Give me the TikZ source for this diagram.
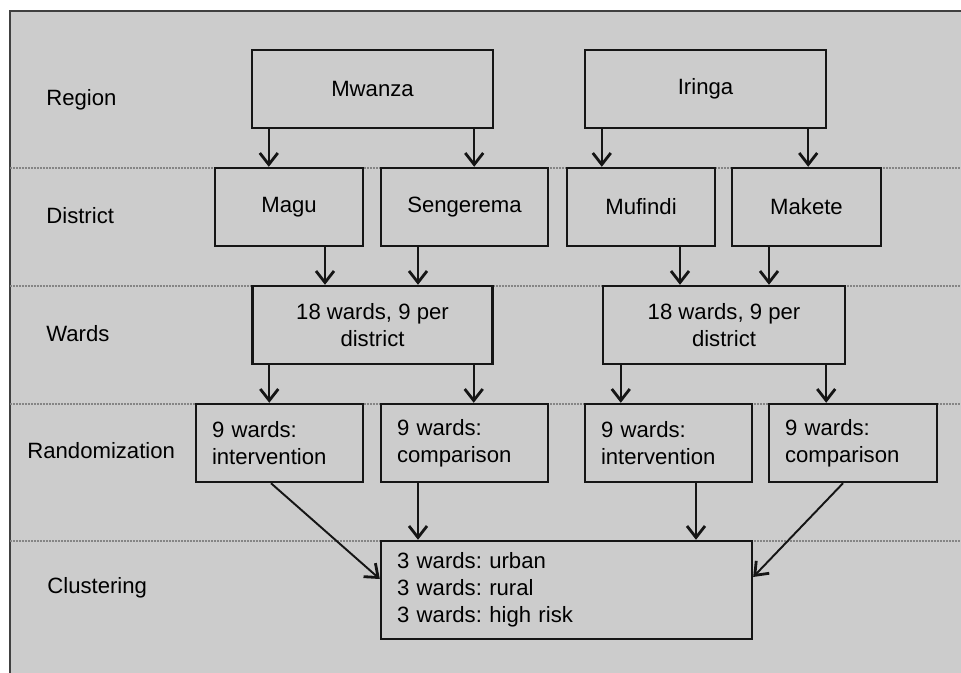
\documentclass[tikz,border=0pt]{standalone}
\usepackage{fontspec}
\setmainfont{Liberation Sans}
\usetikzlibrary{arrows.meta}
\definecolor{bggray}{HTML}{CCCCCC}
\definecolor{linegray}{HTML}{858585}
\definecolor{boxline}{HTML}{151515}
\frenchspacing

\begin{document}
\begin{tikzpicture}[x=0.02cm, y=-0.02cm,
  every node/.style={font=\fontsize{12.6}{15.3}\selectfont, text=black},
  box/.style={rectangle, draw=boxline, fill=bggray, line width=1.4pt, minimum height=1.56cm, inner sep=0pt},
  listbox/.style={box, align=left, inner xsep=0.32cm},
  rowlabel/.style={anchor=base west, inner sep=0pt},
  arr/.style={draw=boxline, line width=1.1pt, -{Straight Barb[length=2.3mm,width=3.6mm,line width=1.6pt]}},
  sep/.style={linegray, line width=1pt, dash pattern=on 0.04cm off 0.02cm}]

	\useasboundingbox (0,0) rectangle (961,673);
	\fill[bggray] (10,11) rectangle (961,673);
	\draw[black!75, line width=0.6pt] (10,673) -- (10,11) -- (961,11);

	% row separators
	\draw[sep] (10,168) -- (961,168);
	\draw[sep] (10,286) -- (961,286);
	\draw[sep] (10,404) -- (961,404);
	\draw[sep] (10,541) -- (961,541);

	% row labels
	\node[rowlabel] (lregion) at (46,105) {Region};
	\node[rowlabel] (ldistrict) at (46,223) {District};
	\node[rowlabel] (lwards) at (46,341) {Wards};
	\node[rowlabel] (lrandom) at (27,458) {Randomization};
	\node[rowlabel] (lcluster) at (47,593) {Clustering};

	\node[box, minimum width=4.82cm] (mwanza) at (372.5,89) {Mwanza};
	\node[box, minimum width=4.82cm] (iringa) at (705.5,89) {Iringa};

	\node[box, minimum width=2.96cm] (magu) at (289,207) {Magu};
	\node[box, minimum width=3.34cm] (sengerema) at (464.5,207) {Sengerema};
	\node[box, minimum width=2.96cm] (mufindi) at (641,207) {Mufindi};
	\node[box, minimum width=2.98cm] (makete) at (806.5,207) {Makete};

	\node[box, minimum width=4.80cm, align=center] (wardsA) at (372.5,325) {18 wards, 9 per\\district};
	\node[box, minimum width=4.84cm, align=center] (wardsB) at (724,325) {18 wards, 9 per\\district};

	\node[listbox, text width=2.70cm] (intA) at (279.5,443) {9 wards:\\intervention};
	\node[listbox, text width=2.70cm] (compA) at (464.5,443) {9 wards:\\comparison};
	\node[listbox, text width=2.70cm] (intB) at (668.5,443) {9 wards:\\intervention};
	\node[listbox, text width=2.72cm] (compB) at (853,443) {9 wards:\\comparison};

	\node[listbox, text width=6.78cm, minimum height=1.96cm] (cluster) at (566.5,590) {3 wards: urban\\3 wards: rural\\3 wards: high risk};

	% region -> district
	\draw[arr] ([xshift=0.36cm]mwanza.south west) -- ([xshift=0.36cm]mwanza.south west |- magu.north);
	\draw[arr] ([xshift=-0.4cm]mwanza.south east) -- ([xshift=-0.4cm]mwanza.south east |- sengerema.north);
	\draw[arr] ([xshift=0.36cm]iringa.south west) -- ([xshift=0.36cm]iringa.south west |- mufindi.north);
	\draw[arr] ([xshift=-0.38cm]iringa.south east) -- ([xshift=-0.38cm]iringa.south east |- makete.north);

	% district -> wards
	\draw[arr] ([xshift=0.72cm]magu.south) -- ([xshift=0.72cm]magu.south |- wardsA.north);
	\draw[arr] ([xshift=-0.93cm]sengerema.south) -- ([xshift=-0.93cm]sengerema.south |- wardsA.north);
	\draw[arr] ([xshift=0.78cm]mufindi.south) -- ([xshift=0.78cm]mufindi.south |- wardsB.north);
	\draw[arr] ([xshift=-0.75cm]makete.south) -- ([xshift=-0.75cm]makete.south |- wardsB.north);

	% wards -> randomization
	\draw[arr] ([xshift=0.36cm]wardsA.south west) -- ([xshift=0.36cm]wardsA.south west |- intA.north);
	\draw[arr] ([xshift=-0.4cm]wardsA.south east) -- ([xshift=-0.4cm]wardsA.south east |- compA.north);
	\draw[arr] ([xshift=0.38cm]wardsB.south west) -- ([xshift=0.38cm]wardsB.south west |- intB.north);
	\draw[arr] ([xshift=-0.4cm]wardsB.south east) -- ([xshift=-0.4cm]wardsB.south east |- compB.north);

	% randomization -> clustering
	\draw[arr] ([xshift=-0.17cm]intA.south) -- ([yshift=0.22cm]cluster.west);
	\draw[arr] ([xshift=-0.93cm]compA.south) -- ([xshift=-0.93cm]compA.south |- cluster.north);
	\draw[arr] ([xshift=0.55cm]intB.south) -- ([xshift=0.55cm]intB.south |- cluster.north);
	\draw[arr] ([xshift=-0.2cm]compB.south) -- ([yshift=0.26cm]cluster.east);
\end{tikzpicture}
\end{document}
